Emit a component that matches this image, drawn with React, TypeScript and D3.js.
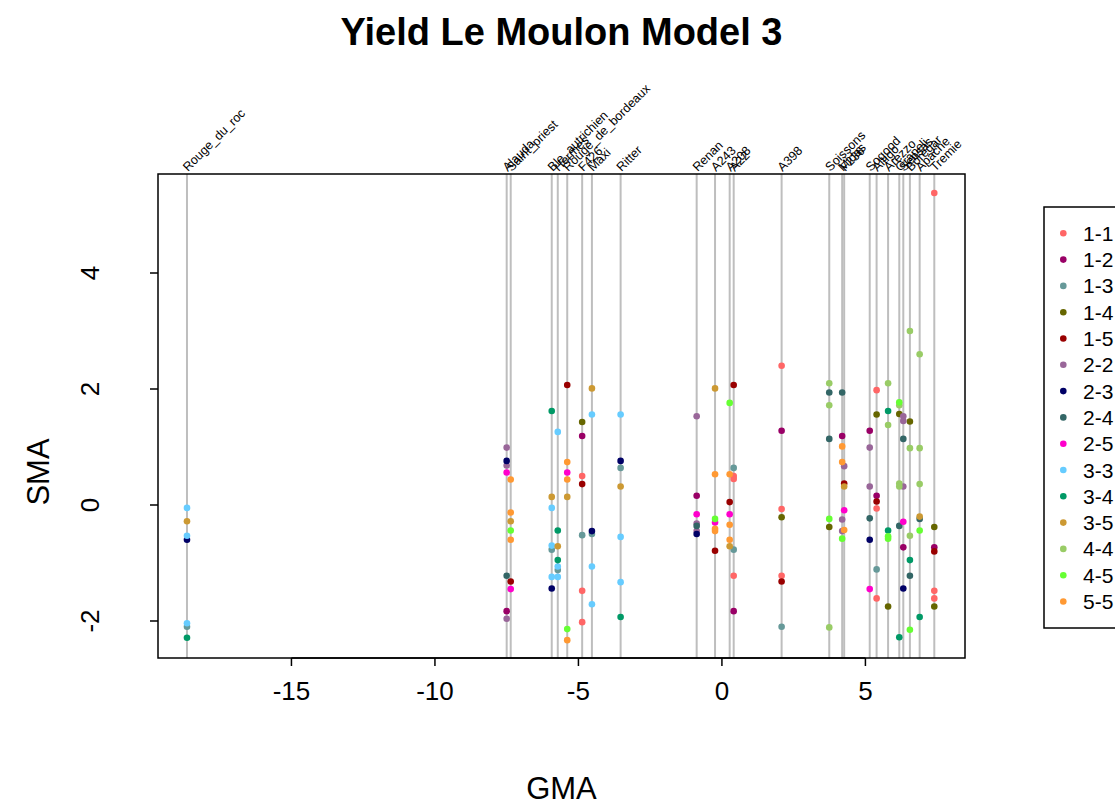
import React from 'react';
import * as d3 from 'd3';

const genotypes = ['Rouge_du_roc','Alauda','Saint_priest','Ble_autrichien','Hermes','Rouge_de_bordeaux','F426','Maxi','Ritter','Renan','A243','A208','A22','A398','Soissons','Midas','F236','Sogood','Altigo','Arezzo','Grapeli','Sensas','Boregar','Apache','Tremie'];
const gmaValues = [-18.64,-7.50,-7.36,-5.93,-5.72,-5.39,-4.87,-4.53,-3.53,-0.88,-0.24,0.27,0.41,2.08,3.74,4.19,4.26,5.15,5.39,5.79,6.18,6.32,6.55,6.89,7.40];

const seriesNames = ['1-1','1-2','1-3','1-4','1-5','2-2','2-3','2-4','2-5','3-3','3-4','3-5','4-4','4-5','5-5'];
const seriesColors = ['#FF6666','#990066','#669999','#666600','#990000','#996699','#000066','#336666','#FF00CC','#66CCFF','#009966','#CC9933','#99CC66','#66FF33','#FF9933'];

type Pt = [string, number];
const s11: Pt[] = [['F426',0.50],['F426',-1.48],['F426',-2.02],['A22',0.50],['A22',0.45],['A22',-1.22],['A398',2.40],['A398',-0.07],['A398',-1.22],['Altigo',1.98],['Altigo',-0.06],['Altigo',-1.61],['Tremie',5.38],['Tremie',-1.48],['Tremie',-1.61]];
const s12: Pt[] = [['Alauda',-1.83],['F426',1.19],['Renan',0.16],['A22',-1.83],['A398',1.28],['Midas',1.19],['Sogood',1.28],['Altigo',0.16],['Sensas',-0.73],['Tremie',-0.73]];
const s13: Pt[] = [['Rouge_du_roc',-2.10],['Ble_autrichien',-0.77],['Hermes',-1.12],['F426',-0.52],['Maxi',-0.50],['Ritter',0.64],['A22',0.64],['A22',-0.77],['A398',-2.10],['Altigo',-1.11]];
const s14: Pt[] = [['F426',1.43],['A398',-0.21],['Soissons',-0.38],['Altigo',1.56],['Arezzo',-1.75],['Grapeli',1.57],['Boregar',1.44],['Tremie',-0.38],['Tremie',-1.75]];
const s15: Pt[] = [['Saint_priest',-1.32],['Rouge_de_bordeaux',2.07],['F426',0.36],['A243',-0.79],['A208',0.05],['A22',2.07],['A398',-1.32],['F236',0.37],['Altigo',0.06],['Tremie',-0.80]];
const s22: Pt[] = [['Alauda',0.99],['Alauda',0.68],['Alauda',-1.96],['Renan',1.53],['Renan',-0.32],['Renan',-0.45],['F236',0.67],['Midas',-0.25],['Midas',-0.45],['Sogood',0.99],['Sogood',0.32],['Sensas',1.53],['Sensas',1.45],['Sensas',0.32]];
const s23: Pt[] = [['Rouge_du_roc',-0.60],['Alauda',0.76],['Ble_autrichien',-1.44],['Maxi',-0.45],['Ritter',0.76],['Renan',-0.50],['Sogood',-0.60],['Sensas',-1.44]];
const s24: Pt[] = [['Alauda',-1.22],['Renan',-0.36],['Soissons',1.94],['Soissons',1.14],['Midas',1.94],['Sogood',-0.23],['Grapeli',-0.36],['Sensas',1.14],['Boregar',-1.22],['Apache',-0.24]];
const s25: Pt[] = [['Alauda',0.56],['Saint_priest',-1.45],['Rouge_de_bordeaux',0.56],['Renan',-0.16],['A243',-0.30],['A208',-0.16],['F236',-0.09],['Sogood',-1.45],['Sensas',-0.29]];
const s33: Pt[] = [['Rouge_du_roc',-0.05],['Rouge_du_roc',-0.53],['Rouge_du_roc',-2.04],['Ble_autrichien',-0.05],['Ble_autrichien',-0.70],['Ble_autrichien',-1.24],['Hermes',1.26],['Hermes',-1.06],['Hermes',-1.24],['Maxi',1.56],['Maxi',-1.06],['Maxi',-1.71],['Ritter',1.56],['Ritter',-0.55],['Ritter',-1.33]];
const s34: Pt[] = [['Rouge_du_roc',-2.29],['Ble_autrichien',1.62],['Hermes',-0.44],['Hermes',-0.95],['Ritter',-1.93],['Arezzo',1.62],['Arezzo',-0.44],['Grapeli',-2.28],['Boregar',-0.95],['Apache',-1.93]];
const s35: Pt[] = [['Rouge_du_roc',-0.28],['Saint_priest',-0.28],['Ble_autrichien',0.14],['Hermes',-0.71],['Rouge_de_bordeaux',0.14],['Maxi',2.01],['Ritter',0.32],['A243',2.01],['A208',-0.71],['F236',0.32],['Apache',-0.20]];
const s44: Pt[] = [['Soissons',2.10],['Soissons',1.72],['Soissons',-2.11],['Arezzo',2.10],['Arezzo',1.38],['Grapeli',1.72],['Grapeli',0.37],['Grapeli',0.32],['Boregar',3.00],['Boregar',0.98],['Boregar',-0.53],['Apache',2.60],['Apache',0.98],['Apache',0.36]];
const s45: Pt[] = [['Saint_priest',-0.44],['Rouge_de_bordeaux',-2.14],['A243',-0.24],['A208',1.76],['Soissons',-0.24],['Midas',-0.58],['Arezzo',-0.54],['Arezzo',-0.58],['Grapeli',1.77],['Boregar',-2.15],['Apache',-0.44]];
const s55: Pt[] = [['Saint_priest',0.44],['Saint_priest',-0.13],['Saint_priest',-0.60],['Rouge_de_bordeaux',0.74],['Rouge_de_bordeaux',0.44],['Rouge_de_bordeaux',-2.33],['A243',0.53],['A243',-0.41],['A243',-0.45],['A208',0.53],['A208',-0.34],['A208',-0.60],['Midas',1.01],['Midas',0.74],['F236',-0.43]];

const seriesData: Pt[][] = [s11,s12,s13,s14,s15,s22,s23,s24,s25,s33,s34,s35,s44,s45,s55];

const xTicks = [-15,-10,-5,0,5];
const yTicks = [-2,0,2,4];

const FONT = '"Liberation Sans", Arial, Helvetica, sans-serif';

export default function App() {
  const W = 1115, H = 802;
  const left = 158, right = 965, top = 174, bottom = 658;
  const x = d3.scaleLinear().domain([-19.65, 8.47]).range([left, right]);
  const y = d3.scaleLinear().domain([-2.638, 5.707]).range([bottom, top]);
  const gx = (g: string) => x(gmaValues[genotypes.indexOf(g)]);

  const legendTop = 233.3;
  const legendStep = 26.3;
  const fmt = (t: number) => (t < 0 ? '-' + Math.abs(t) : String(t));

  return (
    <svg width={W} height={H} style={{ position: 'fixed', left: 0, top: 0, background: '#fff' }} fontFamily={FONT}>
      <rect x={0} y={0} width={W} height={H} fill="#fff" />
      <text x={561.5} y={45} textAnchor="middle" fontSize={38} fontWeight="bold">Yield Le Moulon Model 3</text>

      {genotypes.map((g, i) => (
        <line key={'v' + g} x1={x(gmaValues[i])} x2={x(gmaValues[i])} y1={bottom} y2={top} stroke="#BEBEBE" strokeWidth={2} />
      ))}
      {genotypes.map((g, i) => {
        const ax = x(gmaValues[i]) + 1;
        const ay = top - 2;
        return (
          <text key={'l' + g} x={ax} y={ay} fontSize={12.5} transform={`rotate(-45 ${ax} ${ay})`}>{g}</text>
        );
      })}

      {seriesData.map((pts, si) =>
        pts.map((p, k) => (
          <circle key={si + '-' + k} cx={gx(p[0])} cy={y(p[1])} r={3.3} fill={seriesColors[si]} />
        ))
      )}

      <rect x={left} y={top} width={right - left} height={bottom - top} fill="none" stroke="#000" strokeWidth={1.5} />

      <line x1={x(xTicks[0])} x2={x(xTicks[xTicks.length - 1])} y1={bottom} y2={bottom} stroke="#000" strokeWidth={1.5} />
      {xTicks.map(t => (
        <g key={'xt' + t}>
          <line x1={x(t)} x2={x(t)} y1={bottom} y2={bottom + 8} stroke="#000" strokeWidth={1.5} />
          <text x={x(t)} y={700} textAnchor="middle" fontSize={26}>{fmt(t)}</text>
        </g>
      ))}
      {yTicks.map(t => (
        <g key={'yt' + t}>
          <line x1={left - 8} x2={left} y1={y(t)} y2={y(t)} stroke="#000" strokeWidth={1.5} />
          <text x={99} y={y(t)} textAnchor="middle" fontSize={26} transform={`rotate(-90 99 ${y(t)})`}>{fmt(t)}</text>
        </g>
      ))}
      <text x={561.5} y={799} textAnchor="middle" fontSize={31}>GMA</text>
      <text x={49} y={472} textAnchor="middle" fontSize={31} transform="rotate(-90 49 472)">SMA</text>

      <rect x={1044} y={207} width={100} height={421} fill="#fff" stroke="#000" strokeWidth={1.5} />
      {seriesNames.map((s, i) => (
        <g key={'lg' + s}>
          <circle cx={1063.3} cy={legendTop + i * legendStep} r={3.3} fill={seriesColors[i]} />
          <text x={1083} y={legendTop + i * legendStep + 7.5} fontSize={21}>{s}</text>
        </g>
      ))}
    </svg>
  );
}
